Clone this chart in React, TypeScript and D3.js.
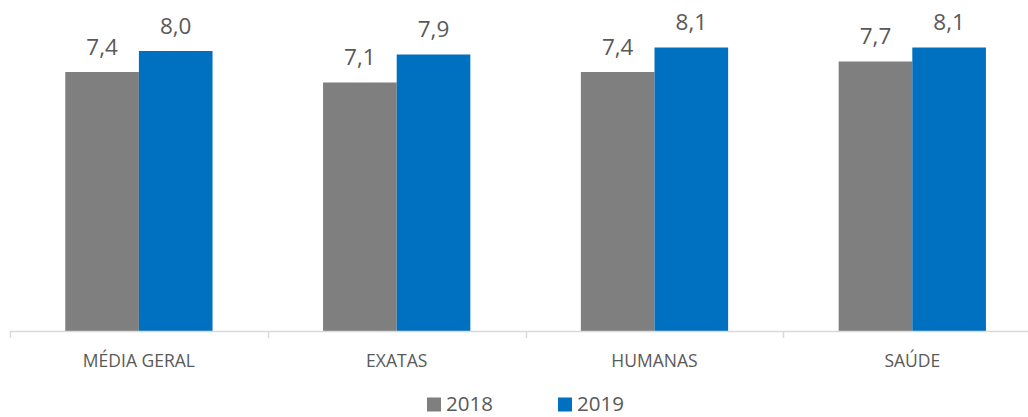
import React from "react";
import * as d3 from "d3";

const categories = ["MÉDIA GERAL", "EXATAS", "HUMANAS", "SAÚDE"];
const series2018 = [7.4, 7.1, 7.4, 7.7];
const series2019 = [8.0, 7.9, 8.1, 8.1];
const seriesNames = ["2018", "2019"];
const colors = ["#7F7F7F", "#0070C0"];

const W = 1028;
const H = 417;
const FONT = "'Open Sans', 'Liberation Sans', sans-serif";

export default function App() {
  const x0 = 10;
  const band = 257.8;
  const x = d3
    .scaleBand<string>()
    .domain(categories)
    .range([x0, x0 + band * categories.length])
    .paddingInner(0)
    .paddingOuter(0);
  const inner = d3
    .scaleBand<string>()
    .domain(seriesNames)
    .range([0, band])
    .paddingInner(0)
    .paddingOuter(0.7505);
  const baseY = 331;
  const y = d3.scaleLinear().domain([0, 8]).range([baseY, baseY - 280]);
  const data = [series2018, series2019];
  const fmt = (v: number) => v.toFixed(1).replace(".", ",");

  return (
    <svg
      width={W}
      height={H}
      style={{ position: "absolute", left: 0, top: 0, background: "#fff" }}
      fontFamily={FONT}
    >
      {categories.map((c, i) => (
        <g key={c}>
          {seriesNames.map((s, j) => {
            const bx = (x(c) as number) + (inner(s) as number);
            const v = data[j][i];
            return (
              <g key={s}>
                <rect
                  x={bx}
                  y={y(v)}
                  width={inner.bandwidth()}
                  height={baseY - y(v)}
                  fill={colors[j]}
                />
                <text
                  x={bx + inner.bandwidth() / 2}
                  y={y(v) - 17.5}
                  textAnchor="middle"
                  fontSize={22.5}
                  fill="#595959"
                >
                  {fmt(v)}
                </text>
              </g>
            );
          })}
          <text
            x={(x(c) as number) + band / 2}
            y={367}
            textAnchor="middle"
            fontSize={17.5}
            fill="#595959"
          >
            {c}
          </text>
        </g>
      ))}
      <line x1={x0} x2={W} y1={baseY + 0.5} y2={baseY + 0.5} stroke="#D9D9D9" strokeWidth={1.5} />
      {d3.range(categories.length + 1).map((k) => {
        const tx = Math.round(x0 + band * k) + 0.5;
        return (
          <line key={k} x1={tx} x2={tx} y1={baseY} y2={baseY + 7} stroke="#D9D9D9" strokeWidth={1.5} />
        );
      })}
      {seriesNames.map((s, j) => {
        const lx = [427, 558][j];
        return (
          <g key={s}>
            <rect x={lx} y={397.5} width={14} height={14} fill={colors[j]} />
            <text x={lx + 19} y={411} fontSize={20.5} fill="#595959">
              {s}
            </text>
          </g>
        );
      })}
    </svg>
  );
}
